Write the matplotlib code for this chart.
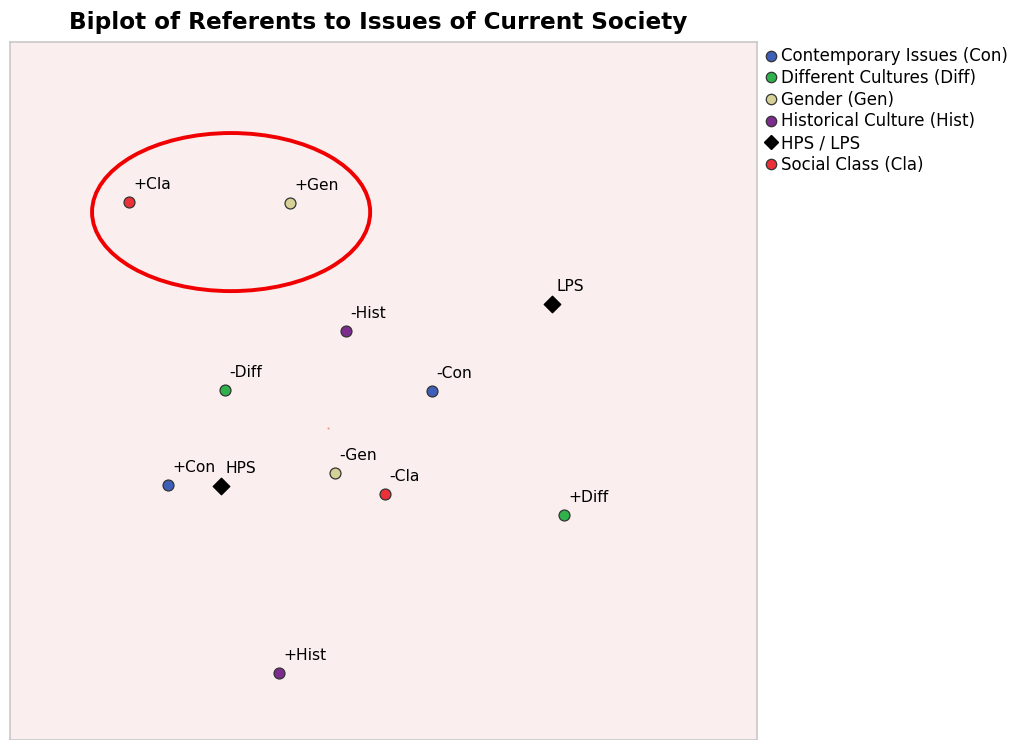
import matplotlib
matplotlib.use("Agg")
import matplotlib.pyplot as plt
from matplotlib.patches import Ellipse
from matplotlib.lines import Line2D

# biplot coordinates
labels = ["+Cla", "+Gen", "LPS", "-Hist", "-Diff", "-Con",
          "+Con", "HPS", "-Gen", "-Cla", "+Diff", "+Hist"]
groups = ["Cla", "Gen", "PS", "Hist", "Diff", "Con",
          "Con", "PS", "Gen", "Cla", "Diff", "Hist"]
x = [-0.663, -0.127, 0.747, 0.060, -0.343, 0.347,
     -0.533, -0.357, 0.023, 0.190, 0.787, -0.163]
y = [0.753, 0.750, 0.413, 0.323, 0.127, 0.123,
     -0.190, -0.193, -0.150, -0.220, -0.290, -0.817]

legend_names = ["Contemporary Issues (Con)", "Different Cultures (Diff)",
                "Gender (Gen)", "Historical Culture (Hist)",
                "HPS / LPS", "Social Class (Cla)"]
legend_keys = ["Con", "Diff", "Gen", "Hist", "PS", "Cla"]

colors = {"Con": "#3d5fb8", "Diff": "#2fb24c", "Gen": "#d6d197",
          "Hist": "#7b2c8c", "Cla": "#ec3038", "PS": "black"}

fig = plt.figure(figsize=(10.17, 7.4), dpi=100)
ax = fig.add_axes([10 / 1017, 0, 747 / 1017, 698 / 740])
ax.set_facecolor("#faeeee")
for s in ax.spines.values():
    s.set_color("#c8c8c8")
    s.set_linewidth(1.2)
ax.set_xticks([])
ax.set_yticks([])
ax.set_xlim(-1.06, 1.43)
ax.set_ylim(-1.04, 1.287)

for xi, yi, lab, g in zip(x, y, labels, groups):
    if g == "PS":
        ax.scatter(xi, yi, marker="D", s=70, color="black", zorder=3)
    else:
        ax.scatter(xi, yi, marker="o", s=62, color=colors[g],
                   edgecolors="#333333", linewidths=0.9, zorder=3)
    ax.annotate(lab, (xi, yi), xytext=(3, 7), textcoords="offset points",
                fontsize=11.2, ha="left", va="bottom")

# small origin mark
ax.plot(0, 0, marker="s", ms=1.2, color="#f08070", mec="none")

ell = Ellipse((-0.323, 0.72), 0.927, 0.527, fill=False,
              edgecolor="#f00000", linewidth=2.8, zorder=4)
ax.add_patch(ell)

handles = []
for k in legend_keys:
    if k == "PS":
        handles.append(Line2D([], [], ls="none", marker="D", ms=7,
                              color="black"))
    else:
        handles.append(Line2D([], [], ls="none", marker="o", ms=7.5,
                              mfc=colors[k], mec="#333333", mew=0.9))
fig.legend(handles, legend_names, loc="upper left",
           bbox_to_anchor=(753 / 1017, 1 - 34 / 740), frameon=False,
           fontsize=12, handlelength=0.6, handletextpad=0.3,
           labelspacing=0.22, borderpad=0.3)

fig.text(378 / 1017, 1 - 22 / 740,
         "Biplot of Referents to Issues of Current Society",
         ha="center", va="center", fontsize=16.7, fontweight="bold")

fig.savefig("out.png", dpi=100)
